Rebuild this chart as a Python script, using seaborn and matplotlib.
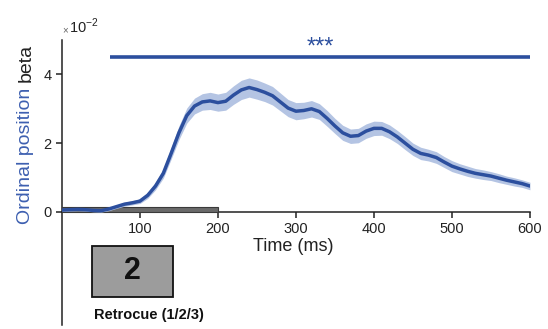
import numpy as np
import pandas as pd
import matplotlib
matplotlib.use("Agg")
import matplotlib.pyplot as plt
from matplotlib.patches import Rectangle
import seaborn as sns

# Time course of the ordinal-position regression weight (units of 1e-2)
time_ms = [0, 10, 20, 30, 40, 50, 60, 70, 80, 90,
           100, 110, 120, 130, 140, 150, 160, 170, 180, 190,
           200, 210, 220, 230, 240, 250, 260, 270, 280, 290,
           300, 310, 320, 330, 340, 350, 360, 370, 380, 390,
           400, 410, 420, 430, 440, 450, 460, 470, 480, 490,
           500, 510, 520, 530, 540, 550, 560, 570, 580, 590, 600]
beta = [0.05, 0.06, 0.07, 0.06, 0.04, 0.03, 0.08, 0.15, 0.22, 0.26,
        0.31, 0.48, 0.75, 1.12, 1.70, 2.30, 2.80, 3.08, 3.20, 3.23,
        3.18, 3.22, 3.40, 3.55, 3.62, 3.56, 3.48, 3.38, 3.20, 3.02,
        2.93, 2.95, 3.00, 2.92, 2.72, 2.50, 2.30, 2.20, 2.22, 2.35,
        2.43, 2.43, 2.33, 2.18, 2.00, 1.82, 1.70, 1.65, 1.58, 1.45,
        1.33, 1.25, 1.18, 1.12, 1.08, 1.04, 0.98, 0.92, 0.87, 0.82, 0.75]
sem = [0.04, 0.04, 0.04, 0.04, 0.04, 0.04, 0.05, 0.05, 0.06, 0.06,
       0.07, 0.09, 0.11, 0.14, 0.17, 0.20, 0.22, 0.23, 0.24, 0.25,
       0.25, 0.26, 0.27, 0.28, 0.28, 0.28, 0.27, 0.27, 0.26, 0.25,
       0.25, 0.24, 0.24, 0.23, 0.23, 0.22, 0.22, 0.21, 0.21, 0.21,
       0.21, 0.20, 0.20, 0.19, 0.19, 0.18, 0.18, 0.17, 0.17, 0.16,
       0.16, 0.15, 0.15, 0.14, 0.14, 0.13, 0.13, 0.12, 0.12, 0.11, 0.11]

# Cluster-level significance window
sig_start, sig_end, sig_level = 61, 600, 4.5
sig_label = "***"
# Retrocue presentation window
cue_start, cue_end = 0, 200
cue_digit = "2"
cue_label = "Retrocue (1/2/3)"

x_ticks = [100, 200, 300, 400, 500, 600]
y_ticks = [0, 2, 4]

line_col = "#2c4f9e"
band_col = "#b4c4e3"
label_blue = "#3d5fb0"

sns.set_style("ticks")
plt.rcParams["font.family"] = ["Liberation Sans", "DejaVu Sans"]

df = pd.DataFrame({"time": time_ms, "beta": beta, "sem": sem})

fig = plt.figure(figsize=(5.48, 3.29), dpi=100)
ax = fig.add_axes([0.113, 0.012, 0.854, 0.866])

lo = df["beta"] - df["sem"]
hi = df["beta"] + df["sem"]
ax.fill_between(df["time"], lo, hi, color=band_col, lw=0, zorder=5)
sns.lineplot(data=df, x="time", y="beta", ax=ax, color=line_col, lw=2.5,
             zorder=6, errorbar=None)

# significance bar
ax.plot([sig_start, sig_end], [sig_level, sig_level], color=line_col,
        lw=2.6, solid_capstyle="butt", zorder=3)
ax.text(331, 4.6, sig_label, ha="center", va="baseline",
        color=line_col, fontsize=17, zorder=4)

ax.set_xlim(0, 600)
ax.set_ylim(-3.3, 5)
ax.spines["bottom"].set_position(("data", 0))
ax.spines["top"].set_visible(False)
ax.spines["right"].set_visible(False)
for s in ("bottom", "left"):
    ax.spines[s].set_linewidth(1.1)
    ax.spines[s].set_color("#222222")
ax.set_xticks(x_ticks)
ax.set_yticks(y_ticks)
ax.set_xticklabels([str(v) for v in x_ticks])
ax.set_yticklabels([str(v) for v in y_ticks])
ax.tick_params(axis="both", direction="out", length=4, width=1.1,
               labelsize=10.5, color="#222222", labelcolor="#222222")
ax.set_xlabel("")
ax.set_ylabel("")

# cue presentation bar along the time axis
ax.add_patch(Rectangle((cue_start, 0), cue_end - cue_start, 0.13,
                       facecolor="#6a6a6a", edgecolor="#3a3a3a", lw=0.8,
                       zorder=4, clip_on=False))

# retrocue box
ax.add_patch(Rectangle((38, -2.48), 105, 1.48, facecolor="#9c9c9c",
                       edgecolor="#111111", lw=1.3, zorder=4, clip_on=False))
ax.text(90.5, -1.72, cue_digit, ha="center", va="center", fontsize=22,
        fontweight="bold", color="#111111", zorder=5)
ax.text(111, -3.0, cue_label, ha="center", va="center", fontsize=10.5,
        fontweight="bold", color="#111111")

ax.text(297, -1.02, "Time (ms)", ha="center", va="center", fontsize=13,
        color="#222222")

# y-axis label in two colours, laid end to end
fig.canvas.draw()
renderer = fig.canvas.get_renderer()
t1 = fig.text(0.047, 1 - 224 / 329, "Ordinal position ", rotation=90,
              ha="center", va="bottom", fontsize=14, color=label_blue)
ext = t1.get_window_extent(renderer=renderer)
top_frac = ext.y1 / fig.bbox.height
fig.text(0.047, top_frac, "beta", rotation=90, ha="center", va="bottom",
         fontsize=14, color="#222222")

# scale factor of the y axis
fig.text(62 / 548, 1 - 33 / 329, "\u00d7", fontsize=7, color="#666666",
         ha="left", va="baseline")
fig.text(69 / 548, 1 - 33 / 329, r"10$^{\mathregular{-2}}$", fontsize=10.5,
         color="#222222", ha="left", va="baseline")

fig.savefig("out.png", dpi=100)
